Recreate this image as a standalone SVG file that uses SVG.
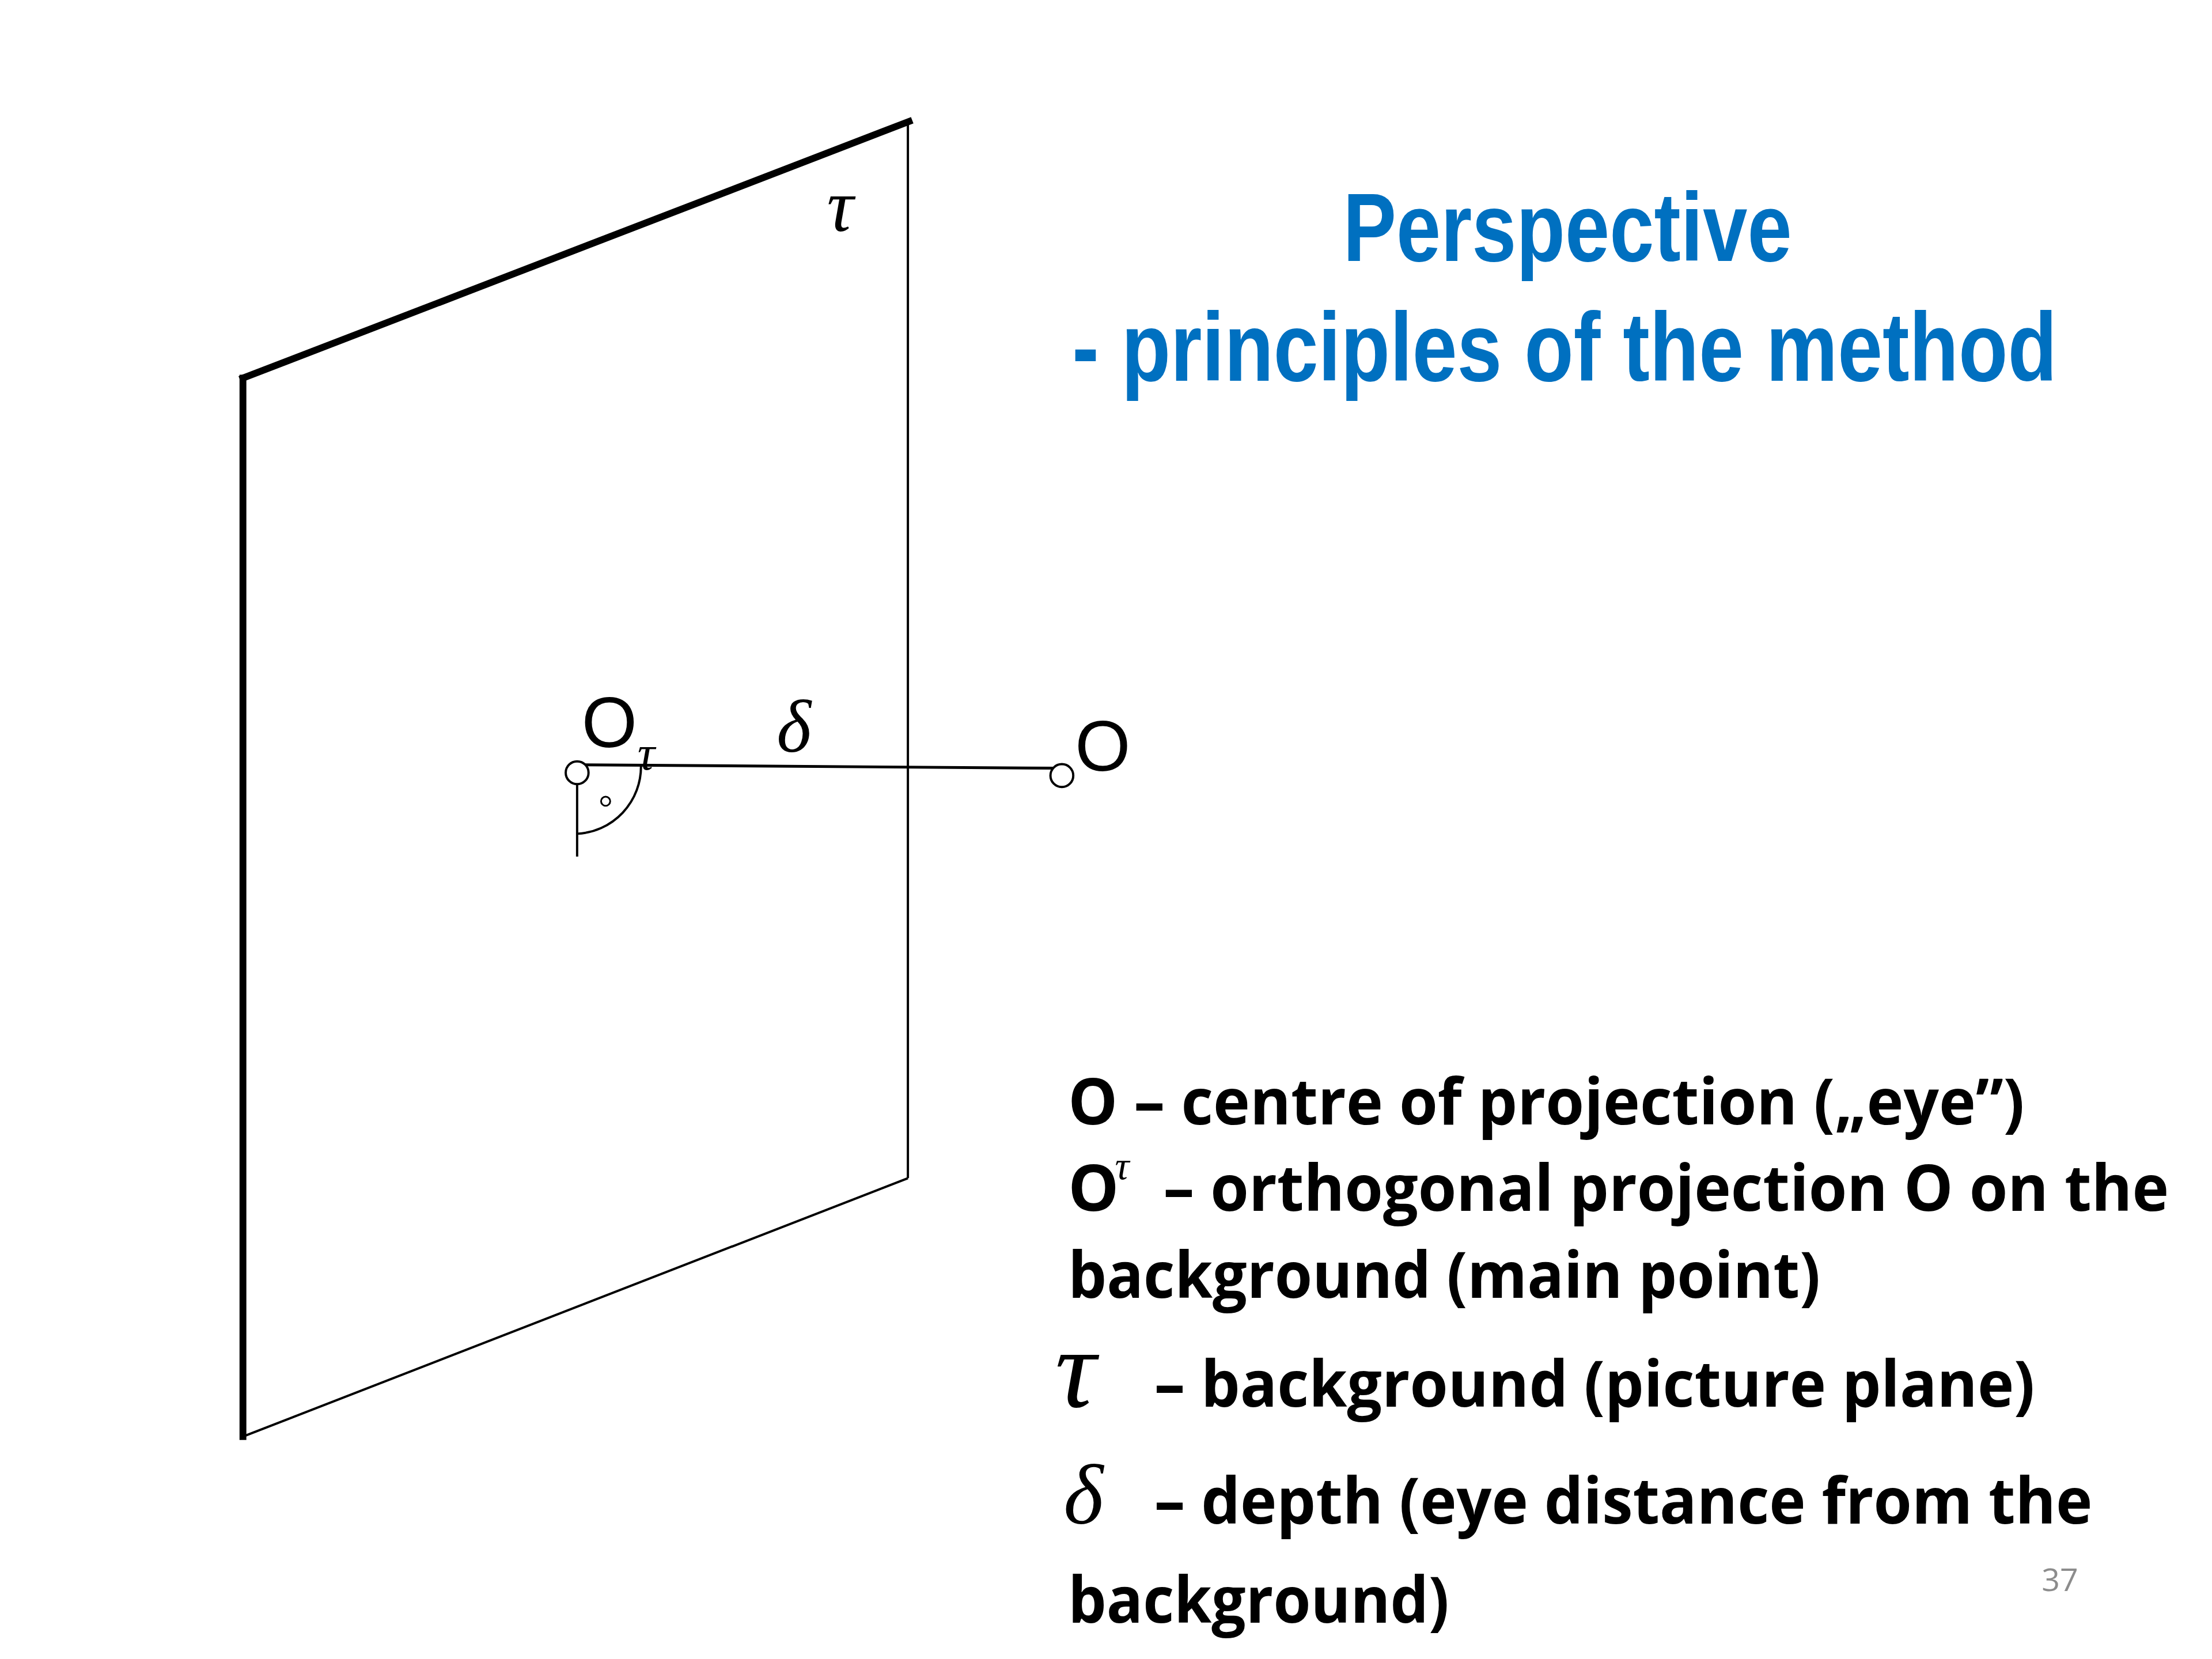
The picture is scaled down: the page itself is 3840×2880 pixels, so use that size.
<svg xmlns="http://www.w3.org/2000/svg" width="3840" height="2880" viewBox="0 0 3840 2880">
<style>
.thick{stroke:#000;stroke-width:12;fill:none;stroke-linecap:square}
.thin{stroke:#000;stroke-width:4;fill:none}
.pt{stroke:#000;stroke-width:4;fill:#fff}
.title{font-family:"Liberation Sans",Arial,sans-serif;font-weight:bold;fill:#0070C0;font-size:170px}
.leg{font-family:"Open Sans","Liberation Sans",sans-serif;font-weight:bold;fill:#000;font-size:112px}
.gr{font-family:"Liberation Serif","DejaVu Serif",serif;font-style:italic;fill:#000}
.lbl{font-family:"Liberation Sans",Arial,sans-serif;fill:#000;font-size:125px}
</style>
<rect width="3840" height="2880" fill="#fff"/>
<g transform="scale(0.99)">
<g id="plane">
<line class="thick" x1="426" y1="663" x2="426" y2="2519"/>
<line class="thick" x1="426" y1="663" x2="1594" y2="213"/>
<line class="thin" x1="1592" y1="213" x2="1592" y2="2066"/>
<line class="thin" x1="426" y1="2519" x2="1592" y2="2066"/>
<text class="gr" x="1450" y="405" font-size="130">τ</text>
</g>
<g id="connectors">
<line x1="1002" y1="1341" x2="1848" y2="1347" stroke="#000" stroke-width="5"/>
<line class="thin" x1="1012" y1="1361" x2="1012" y2="1502"/>
<path class="thin" d="M1124 1343 A118 118 0 0 1 1012 1462" stroke-width="3"/>
<circle cx="1062" cy="1405" r="8" fill="none" stroke="#000" stroke-width="3"/>
</g>
<g id="Otau">
<circle class="pt" cx="1012" cy="1355" r="20"/>
<text class="lbl" x="1020" y="1310">O</text>
<text class="gr" x="1118" y="1350" font-size="85">τ</text>
<text class="gr" x="1362" y="1318" font-size="130">δ</text>
</g>
<g id="O">
<circle class="pt" cx="1862" cy="1360" r="20"/>
<text class="lbl" x="1885" y="1352">O</text>
</g>
<g id="title">
<text class="title" x="2355" y="458" textLength="787" lengthAdjust="spacingAndGlyphs">Perspective</text>
<text class="title" x="1880" y="668" textLength="1727" lengthAdjust="spacingAndGlyphs">- principles of the method</text>
</g>
<g id="legend">
<text class="leg" x="1873" y="1972" textLength="1677" lengthAdjust="spacingAndGlyphs">O – centre of projection („eye”)</text>
<text class="leg" x="1873" y="2123">O</text>
<text class="gr" x="1955" y="2068" font-size="70">τ</text>
<text class="leg" x="2040" y="2123" textLength="1763" lengthAdjust="spacingAndGlyphs">– orthogonal projection O on the</text>
<text class="leg" x="1873" y="2276" textLength="1319" lengthAdjust="spacingAndGlyphs">background (main point)</text>
<text class="gr" x="1850" y="2467" font-size="200">τ</text>
<text class="leg" x="2024" y="2467" textLength="1544" lengthAdjust="spacingAndGlyphs">– background (picture plane)</text>
<text class="gr" x="1865" y="2672" font-size="150">δ</text>
<text class="leg" x="2024" y="2672" textLength="1645" lengthAdjust="spacingAndGlyphs">– depth (eye distance from the</text>
<text class="leg" x="1873" y="2845" textLength="668" lengthAdjust="spacingAndGlyphs">background)</text>
<text x="3580" y="2790" font-family="Open Sans,Liberation Sans,sans-serif" font-size="56" fill="#8c8c8c">37</text>
</g>
</g>
</svg>
